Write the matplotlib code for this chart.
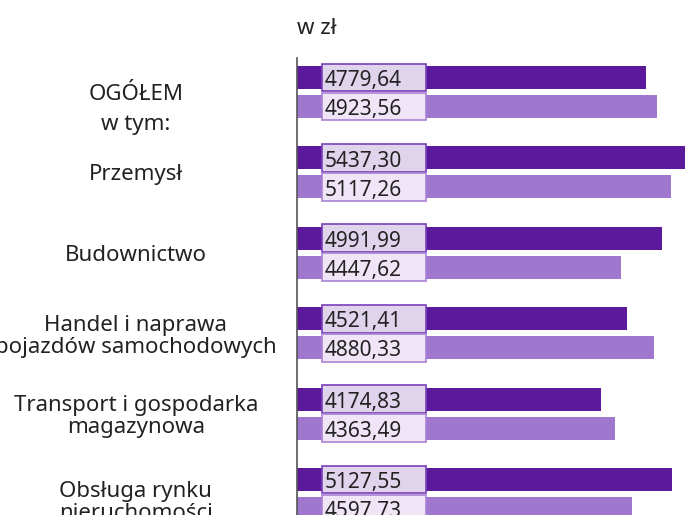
import matplotlib.pyplot as plt
from matplotlib.patches import Rectangle

# dane
categories = ['OGÓŁEM', 'Przemysł', 'Budownictwo',
              'Handel i naprawa\npojazdów samochodowych',
              'Transport i gospodarka\nmagazynowa',
              'Obsługa rynku\nnieruchomości']
values_a = [4779.64, 5437.30, 4991.99, 4521.41, 4174.83, 5127.55]
values_b = [4923.56, 5117.26, 4447.62, 4880.33, 4363.49, 4597.73]

dark = '#5b1a9b'
light = '#a077cf'
txt = '#222222'

plt.rcParams['font.family'] = ['Noto Sans', 'DejaVu Sans']

fig = plt.figure(figsize=(6.85, 5.15), dpi=100)
ax = fig.add_axes([297 / 685, 0, 1 - 297 / 685, (515 - 58) / 515])

pos = list(range(len(categories)))
off = 0.180
h = 0.286
ax.barh([p - off for p in pos], values_a, height=h, color=dark, zorder=2)
ax.barh([p + off for p in pos], values_b, height=h, color=light, zorder=2)

# etykiety wartosci w ramkach
bh = 0.345
for i in pos:
    for yy, v, fc, ec in [(i - off, values_a[i], '#e0d3ec', '#7a3fb8'),
                          (i + off, values_b[i], '#efe5f7', '#a983d6')]:
        ax.add_patch(Rectangle((450, yy - bh / 2), 1390, bh, facecolor=fc,
                               edgecolor=ec, linewidth=1.2, zorder=3))
        ax.text(490, yy + 0.04, ('%.2f' % v).replace('.', ','), va='center', ha='left',
                fontsize=15, color=txt, zorder=4)

ax.set_xlim(116, 5301)
ax.set_ylim(5.261, -0.423)
# ostatnia etykieta lekko nizej, jak w oryginale
tick_pos = pos[:-1] + [pos[-1] + 0.07]
ax.set_yticks(tick_pos)
ax.set_yticklabels(categories, fontsize=16, color=txt, ha='center',
                   linespacing=1.05)
ax.tick_params(axis='y', length=0, pad=116)
ax.set_xticks([])
ax.text((136 - 297) / 388, 0.4, 'w tym:', transform=ax.get_yaxis_transform(),
        ha='center', va='center', fontsize=16, color=txt)

for s in ['top', 'right', 'bottom']:
    ax.spines[s].set_visible(False)
ax.spines['left'].set_color('#555555')
ax.spines['left'].set_linewidth(1.2)

fig.text(297 / 685, 1 - 28 / 515, 'w zł', ha='left', va='center',
         fontsize=16, color=txt)

fig.savefig('out.png', dpi=100)
